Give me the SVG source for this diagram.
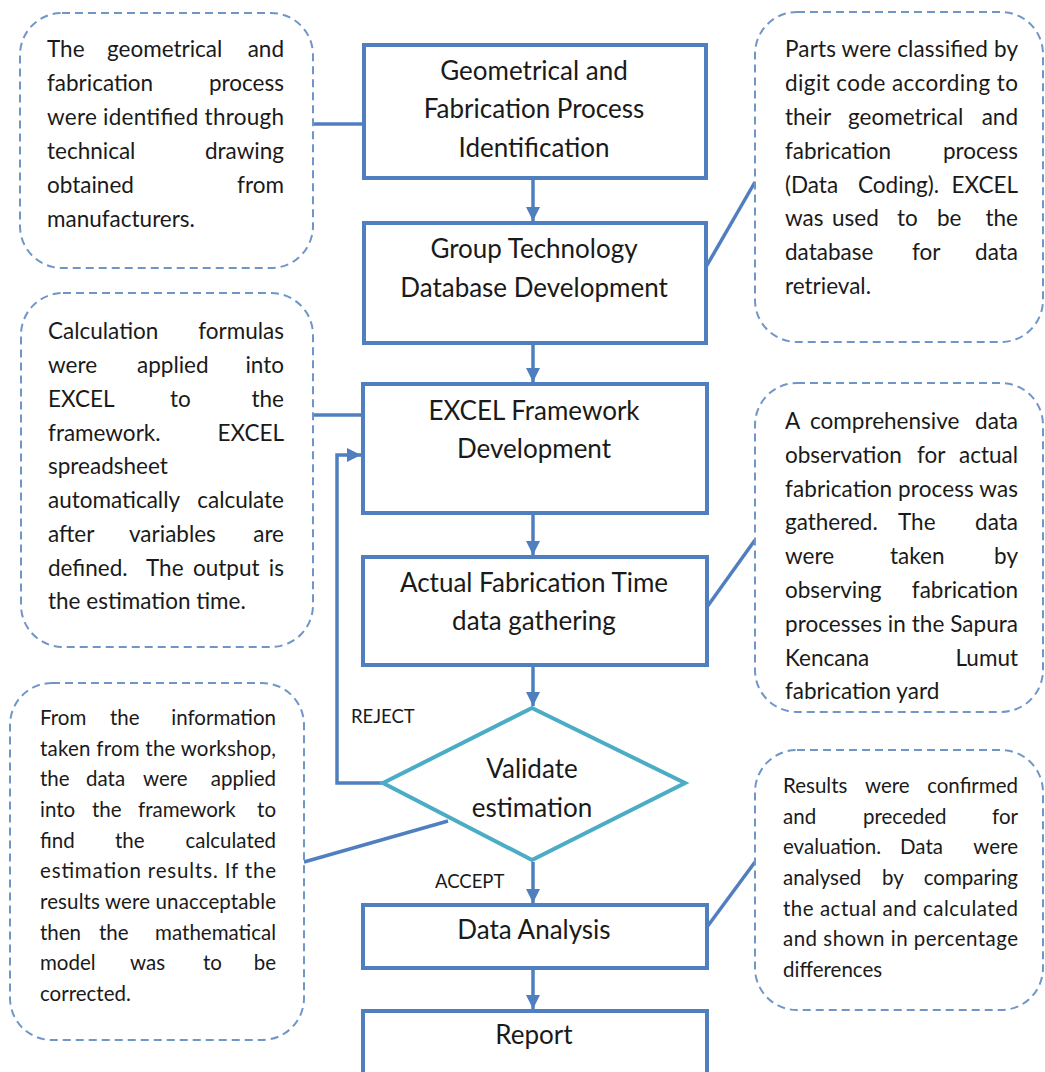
<svg xmlns="http://www.w3.org/2000/svg" width="1045" height="1072" viewBox="0 0 1045 1072">
<defs>
<style>
.box{fill:#fff;stroke:#4f7fbf;stroke-width:4}
.dia{fill:#fff;stroke:#4bacc6;stroke-width:4}
.call{fill:#fff;stroke:#7096c8;stroke-width:2;stroke-dasharray:8 5}
.ln{fill:none;stroke:#4f7fbf;stroke-width:3.5}
.t{font-family:Lato,"Liberation Sans",sans-serif;font-size:26px;fill:#1a1a1a;text-anchor:middle}
.c{font-family:Lato,"Liberation Sans",sans-serif;font-size:22.5px;fill:#1a1a1a}
.s{font-family:Lato,"Liberation Sans",sans-serif;font-size:20.5px;fill:#1a1a1a}
.e{text-anchor:end}
.lab{font-family:Lato,"Liberation Sans",sans-serif;font-size:18.5px;fill:#1a1a1a}
</style>
<marker id="ah" viewBox="0 0 10 10" refX="10" refY="5" markerWidth="4" markerHeight="4" orient="auto" markerUnits="strokeWidth">
<path d="M0,0 L10,5 L0,10 z" fill="#4f7fbf"/>
</marker>
</defs>
<rect width="1045" height="1072" fill="#fff"/>

<g id="connectors">
<path class="ln" d="M533,179 V221" marker-end="url(#ah)"/>
<path class="ln" d="M533,345 V382" marker-end="url(#ah)"/>
<path class="ln" d="M533,515 V555" marker-end="url(#ah)"/>
<path class="ln" d="M533,667 V706" marker-end="url(#ah)"/>
<path class="ln" d="M533,862 V903" marker-end="url(#ah)"/>
<path class="ln" d="M533,970 V1009" marker-end="url(#ah)"/>
<path class="ln" d="M383,783 H337 V455 H361" marker-end="url(#ah)"/>
<path class="ln" d="M313,124 H364"/>
<path class="ln" d="M706,267 L755,182"/>
<path class="ln" d="M313,415 H363"/>
<path class="ln" d="M707,607 L755,540"/>
<path class="ln" d="M448,821 L304,862"/>
<path class="ln" d="M707,927 L755,862"/>
<text class="lab" x="351" y="723">REJECT</text>
<text class="lab" x="435" y="888">ACCEPT</text>
</g>

<g id="n1">
<rect class="box" x="364" y="45" width="342" height="133"/>
<text class="t" x="534" y="80">Geometrical and</text>
<text class="t" x="534" y="118">Fabrication Process</text>
<text class="t" x="534" y="157">Identification</text>
</g>
<g id="n2">
<rect class="box" x="364" y="223" width="342" height="120"/>
<text class="t" x="534" y="258">Group Technology</text>
<text class="t" x="534" y="297">Database Development</text>
</g>
<g id="n3">
<rect class="box" x="363" y="384" width="344" height="129"/>
<text class="t" x="534" y="420">EXCEL Framework</text>
<text class="t" x="534" y="458">Development</text>
</g>
<g id="n4">
<rect class="box" x="363" y="557" width="344" height="108"/>
<text class="t" x="534" y="592">Actual Fabrication  Time</text>
<text class="t" x="534" y="630">data gathering</text>
</g>
<g id="n5">
<polygon class="dia" points="532,708 685,783 532,860 383,783"/>
<text class="t" x="532" y="778">Validate</text>
<text class="t" x="532" y="817">estimation</text>
</g>
<g id="n6">
<rect class="box" x="363" y="905" width="344" height="63"/>
<text class="t" x="534" y="939">Data Analysis</text>
</g>
<g id="n7">
<rect class="box" x="363" y="1011" width="344" height="80"/>
<text class="t" x="534" y="1044">Report</text>
</g>

<g id="c1">
<rect class="call" x="20" y="13" width="293" height="255" rx="42"/>
<text class="c" y="57"><tspan x="47">The</tspan><tspan x="107">geometrical</tspan></text><text class="c e" x="284" y="57">and</text>
<text class="c" x="47" y="91">fabrication</text><text class="c e" x="284" y="91">process</text>
<text class="c" x="47" y="125" textLength="237" lengthAdjust="spacing">were identified through</text>
<text class="c" x="47" y="159">technical</text><text class="c e" x="284" y="159">drawing</text>
<text class="c" x="47" y="193">obtained</text><text class="c e" x="284" y="193">from</text>
<text class="c" x="47" y="227">manufacturers.</text>
</g>

<g id="c2">
<rect class="call" x="755" y="12" width="288" height="330" rx="42"/>
<text class="c" x="785" y="57" textLength="233" lengthAdjust="spacing">Parts were classified by</text>
<text class="c" x="785" y="91" textLength="233" lengthAdjust="spacing">digit code according to</text>
<text class="c" y="125"><tspan x="785">their</tspan><tspan x="848">geometrical</tspan></text><text class="c e" x="1018" y="125">and</text>
<text class="c" x="785" y="159">fabrication</text><text class="c e" x="1018" y="159">process</text>
<text class="c" y="193"><tspan x="785">(Data</tspan><tspan x="858">Coding).</tspan></text><text class="c e" x="1018" y="193">EXCEL</text>
<text class="c" y="226"><tspan x="785">was</tspan><tspan x="832">used</tspan><tspan x="897">to</tspan><tspan x="937">be</tspan></text><text class="c e" x="1018" y="226">the</text>
<text class="c" y="260"><tspan x="785">database</tspan><tspan x="912">for</tspan></text><text class="c e" x="1018" y="260">data</text>
<text class="c" x="785" y="294">retrieval.</text>
</g>

<g id="c3">
<rect class="call" x="21" y="293" width="292" height="354" rx="42"/>
<text class="c" x="48" y="339">Calculation</text><text class="c e" x="284" y="339">formulas</text>
<text class="c" y="373"><tspan x="48">were</tspan><tspan x="137">applied</tspan></text><text class="c e" x="284" y="373">into</text>
<text class="c" y="407"><tspan x="48">EXCEL</tspan><tspan x="170">to</tspan></text><text class="c e" x="284" y="407">the</text>
<text class="c" x="48" y="441">framework.</text><text class="c e" x="284" y="441">EXCEL</text>
<text class="c" x="48" y="474">spreadsheet</text>
<text class="c" x="48" y="508">automatically</text><text class="c e" x="284" y="508">calculate</text>
<text class="c" y="542"><tspan x="48">after</tspan><tspan x="129">variables</tspan></text><text class="c e" x="284" y="542">are</text>
<text class="c" y="576"><tspan x="48">defined.</tspan><tspan x="146">The</tspan><tspan x="193">output</tspan></text><text class="c e" x="284" y="576">is</text>
<text class="c" x="48" y="609">the estimation time.</text>
</g>

<g id="c4">
<rect class="call" x="755" y="383" width="288" height="329" rx="42"/>
<text class="c" y="429"><tspan x="785">A</tspan><tspan x="810">comprehensive</tspan></text><text class="c e" x="1018" y="429">data</text>
<text class="c" y="463"><tspan x="785">observation</tspan><tspan x="917">for</tspan></text><text class="c e" x="1018" y="463">actual</text>
<text class="c" x="785" y="497" textLength="233" lengthAdjust="spacing">fabrication process was</text>
<text class="c" y="530"><tspan x="785">gathered.</tspan><tspan x="898">The</tspan></text><text class="c e" x="1018" y="530">data</text>
<text class="c" y="564"><tspan x="785">were</tspan><tspan x="890">taken</tspan></text><text class="c e" x="1018" y="564">by</text>
<text class="c" x="785" y="598">observing</text><text class="c e" x="1018" y="598">fabrication</text>
<text class="c" x="785" y="632" textLength="233" lengthAdjust="spacing">processes in the Sapura</text>
<text class="c" x="785" y="666">Kencana</text><text class="c e" x="1018" y="666">Lumut</text>
<text class="c" x="785" y="699">fabrication yard</text>
</g>

<g id="c5">
<rect class="call" x="10" y="683" width="294" height="357" rx="42"/>
<text class="s" y="725"><tspan x="40">From</tspan><tspan x="110">the</tspan></text><text class="s e" x="276" y="725">information</text>
<text class="s" x="40" y="756" textLength="236" lengthAdjust="spacing">taken from the workshop,</text>
<text class="s" y="786"><tspan x="40">the</tspan><tspan x="86">data</tspan><tspan x="143">were</tspan></text><text class="s e" x="276" y="786">applied</text>
<text class="s" y="817"><tspan x="40">into</tspan><tspan x="92">the</tspan><tspan x="138">framework</tspan></text><text class="s e" x="276" y="817">to</text>
<text class="s" y="848"><tspan x="40">find</tspan><tspan x="115">the</tspan></text><text class="s e" x="276" y="848">calculated</text>
<text class="s" x="40" y="878" textLength="236" lengthAdjust="spacing">estimation results. If the</text>
<text class="s" x="40" y="909" textLength="236" lengthAdjust="spacing">results were unacceptable</text>
<text class="s" y="940"><tspan x="40">then</tspan><tspan x="99">the</tspan></text><text class="s e" x="276" y="940">mathematical</text>
<text class="s" y="970"><tspan x="40">model</tspan><tspan x="130">was</tspan><tspan x="203">to</tspan></text><text class="s e" x="276" y="970">be</text>
<text class="s" x="40" y="1001">corrected.</text>
</g>

<g id="c6">
<rect class="call" x="755" y="750" width="288" height="260" rx="42"/>
<text class="s" y="793"><tspan x="783">Results</tspan><tspan x="865">were</tspan></text><text class="s e" x="1018" y="793">confirmed</text>
<text class="s" y="824"><tspan x="783">and</tspan><tspan x="863">preceded</tspan></text><text class="s e" x="1018" y="824">for</text>
<text class="s" y="854"><tspan x="783">evaluation.</tspan><tspan x="900">Data</tspan></text><text class="s e" x="1018" y="854">were</text>
<text class="s" y="885"><tspan x="783">analysed</tspan><tspan x="882">by</tspan></text><text class="s e" x="1018" y="885">comparing</text>
<text class="s" x="783" y="916" textLength="235" lengthAdjust="spacing">the actual and calculated</text>
<text class="s" x="783" y="946" textLength="235" lengthAdjust="spacing">and shown in percentage</text>
<text class="s" x="783" y="977">differences</text>
</g>
</svg>
